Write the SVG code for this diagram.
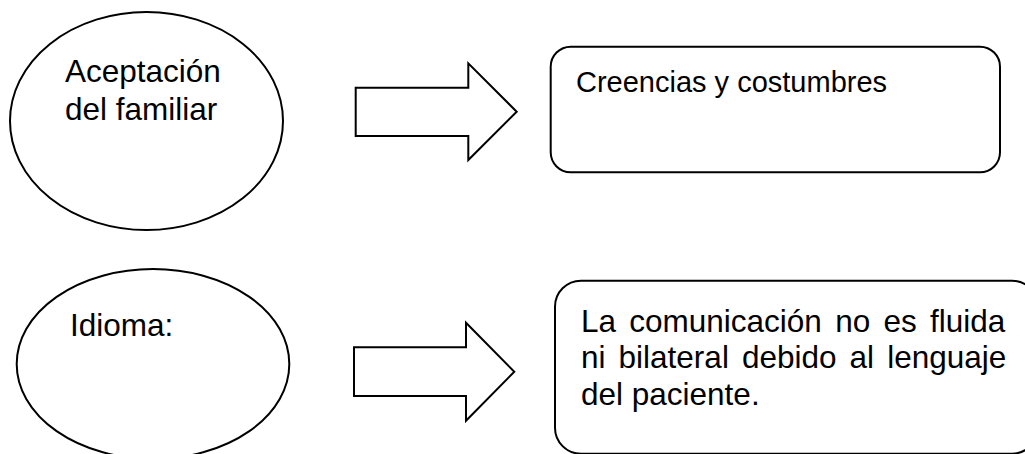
<svg xmlns="http://www.w3.org/2000/svg" width="1025" height="454" viewBox="0 0 1025 454">
<style>
.shape{fill:#fff;stroke:#000;stroke-width:2}
.t{font-family:"Liberation Sans",Arial,sans-serif;fill:#000}
</style>
<rect width="1025" height="454" fill="#fff"/>
<g id="node-aceptacion">
<ellipse class="shape" cx="146.5" cy="121" rx="136.5" ry="109"/>
<text class="t" font-size="31.5" x="65" y="82">Aceptación</text>
<text class="t" font-size="31.5" x="65" y="120">del familiar</text>
</g>
<g id="node-creencias">
<rect class="shape" x="550.7" y="46.7" width="449.3" height="125.6" rx="20" ry="20"/>
<text class="t" font-size="29" x="576" y="91.7">Creencias y costumbres</text>
</g>
<g id="node-idioma">
<ellipse class="shape" cx="153" cy="364" rx="136.3" ry="95"/>
<text class="t" font-size="31.5" x="70" y="336">Idioma:</text>
</g>
<g id="node-comunicacion">
<rect class="shape" x="555" y="280.7" width="483" height="173" rx="26" ry="26"/>
<text class="t" font-size="31.5" word-spacing="4.5" x="581" y="331.7">La comunicación no es fluida</text>
<text class="t" font-size="31.5" word-spacing="4.3" x="581" y="368.3">ni bilateral debido al lenguaje</text>
<text class="t" font-size="31.5" x="581" y="405">del paciente.</text>
</g>
<g id="connectors">
<polygon class="shape" points="355.7,87.7 468.3,87.7 468.3,63.3 516.7,111.7 468.3,160 468.3,136 355.7,136"/>
<polygon class="shape" points="354,347.3 466,347.3 466,322.7 514.3,371.7 466,420.7 466,396 354,396"/>
</g>
</svg>
